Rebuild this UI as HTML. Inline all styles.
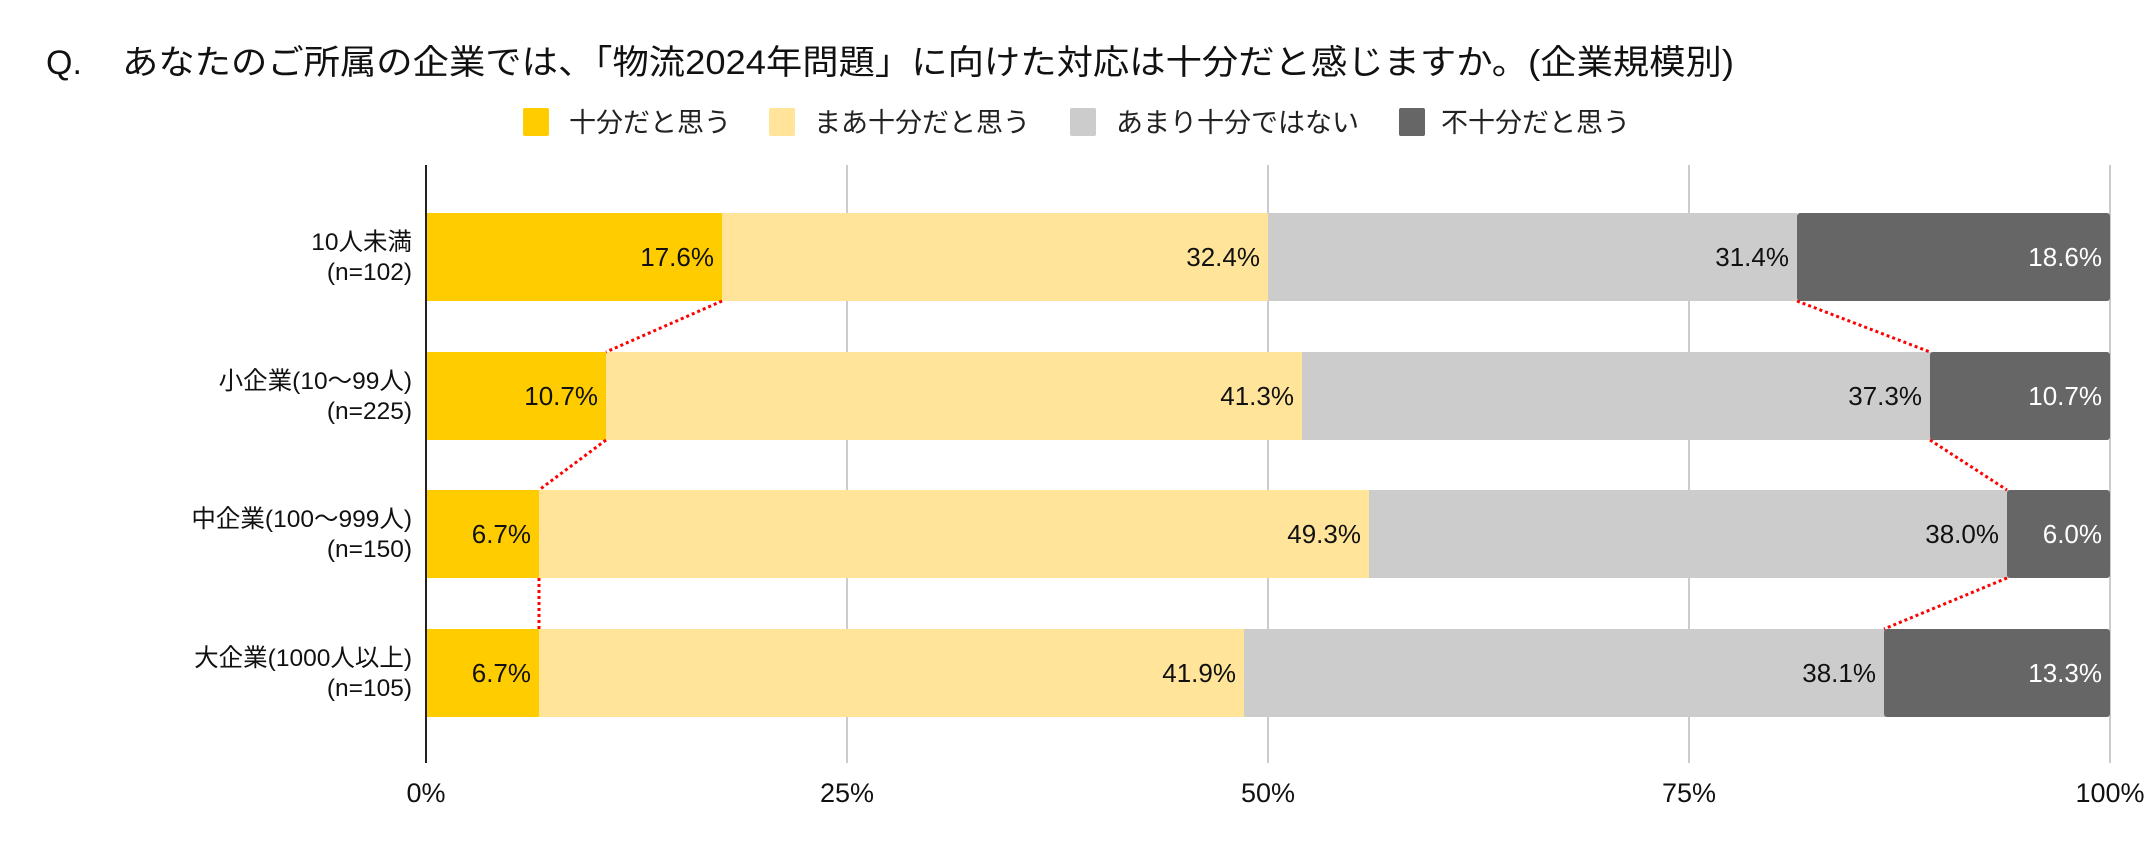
<!DOCTYPE html>
<html><head><meta charset="utf-8"><style>
html,body{margin:0;padding:0;background:#fff;}
svg{display:block;font-family:"Liberation Sans","Noto Sans CJK JP",sans-serif;}
</style></head><body>
<svg width="2155" height="850" viewBox="0 0 2155 850" xmlns="http://www.w3.org/2000/svg">
<rect width="2155" height="850" fill="#fff"/>
<text x="46" y="74" font-size="34" fill="#111">Q.</text>
<text x="122" y="74" font-size="34" fill="#111" textLength="1612" lengthAdjust="spacingAndGlyphs">あなたのご所属の企業では、「物流2024年問題」に向けた対応は十分だと感じますか。(企業規模別)</text>
<g font-size="27" fill="#222">
<rect x="523" y="108" width="26" height="28" rx="2" fill="#FFCC00"/><text x="569" y="132">十分だと思う</text>
<rect x="769" y="108" width="26" height="28" rx="2" fill="#FFE49A"/><text x="814" y="132">まあ十分だと思う</text>
<rect x="1070" y="108" width="26" height="28" rx="2" fill="#CCCCCC"/><text x="1116" y="132">あまり十分ではない</text>
<rect x="1399" y="108" width="26" height="28" rx="2" fill="#666666"/><text x="1441" y="132">不十分だと思う</text>
</g>
<g stroke="#cccccc" stroke-width="2">
<line x1="847" y1="165" x2="847" y2="763"/><line x1="1268" y1="165" x2="1268" y2="763"/><line x1="1689" y1="165" x2="1689" y2="763"/><line x1="2110" y1="165" x2="2110" y2="763"/>
</g>
<g>
<rect x="426" y="213" width="296" height="88" fill="#FFCC00"/>
<rect x="722" y="213" width="546" height="88" fill="#FFE49A"/>
<rect x="1268" y="213" width="529" height="88" fill="#CCCCCC"/>
<rect x="1797" y="213" width="313" height="88" rx="3" fill="#666666"/>

<rect x="426" y="352" width="180" height="88" fill="#FFCC00"/>
<rect x="606" y="352" width="696" height="88" fill="#FFE49A"/>
<rect x="1302" y="352" width="630" height="88" fill="#CCCCCC"/>
<rect x="1930" y="352" width="180" height="88" rx="3" fill="#666666"/>

<rect x="426" y="490" width="113" height="88" fill="#FFCC00"/>
<rect x="539" y="490" width="830" height="88" fill="#FFE49A"/>
<rect x="1369" y="490" width="640" height="88" fill="#CCCCCC"/>
<rect x="2007" y="490" width="103" height="88" rx="3" fill="#666666"/>

<rect x="426" y="629" width="113" height="88" fill="#FFCC00"/>
<rect x="539" y="629" width="705" height="88" fill="#FFE49A"/>
<rect x="1244" y="629" width="642" height="88" fill="#CCCCCC"/>
<rect x="1884" y="629" width="226" height="88" rx="3" fill="#666666"/>
</g>
<line x1="426" y1="165" x2="426" y2="763" stroke="#222" stroke-width="2"/>
<g stroke="#ff0000" stroke-width="3" stroke-dasharray="3,3" fill="none">
<line x1="722" y1="301" x2="606" y2="352"/>
<line x1="606" y1="440" x2="539" y2="490"/>
<line x1="539" y1="578" x2="539" y2="629"/>
<line x1="1797" y1="301" x2="1930" y2="352"/>
<line x1="1930" y1="440" x2="2007" y2="490"/>
<line x1="2007" y1="578" x2="1884" y2="629"/>
</g>
<g font-size="26" text-anchor="end" fill="#111">
<text x="714" y="266">17.6%</text><text x="1260" y="266">32.4%</text><text x="1789" y="266">31.4%</text><text x="2102" y="266" fill="#fff">18.6%</text>
<text x="598" y="405">10.7%</text><text x="1294" y="405">41.3%</text><text x="1922" y="405">37.3%</text><text x="2102" y="405" fill="#fff">10.7%</text>
<text x="531" y="543">6.7%</text><text x="1361" y="543">49.3%</text><text x="1999" y="543">38.0%</text><text x="2102" y="543" fill="#fff">6.0%</text>
<text x="531" y="682">6.7%</text><text x="1236" y="682">41.9%</text><text x="1876" y="682">38.1%</text><text x="2102" y="682" fill="#fff">13.3%</text>
</g>
<g font-size="24.5" text-anchor="end" fill="#111">
<text x="412" y="250">10人未満</text><text x="412" y="280">(n=102)</text>
<text x="412" y="389">小企業(10〜99人)</text><text x="412" y="419">(n=225)</text>
<text x="412" y="527">中企業(100〜999人)</text><text x="412" y="557">(n=150)</text>
<text x="412" y="666">大企業(1000人以上)</text><text x="412" y="696">(n=105)</text>
</g>
<g font-size="27" text-anchor="middle" fill="#111">
<text x="426" y="802">0%</text><text x="847" y="802">25%</text><text x="1268" y="802">50%</text><text x="1689" y="802">75%</text><text x="2110" y="802">100%</text>
</g>
</svg>
</body></html>
